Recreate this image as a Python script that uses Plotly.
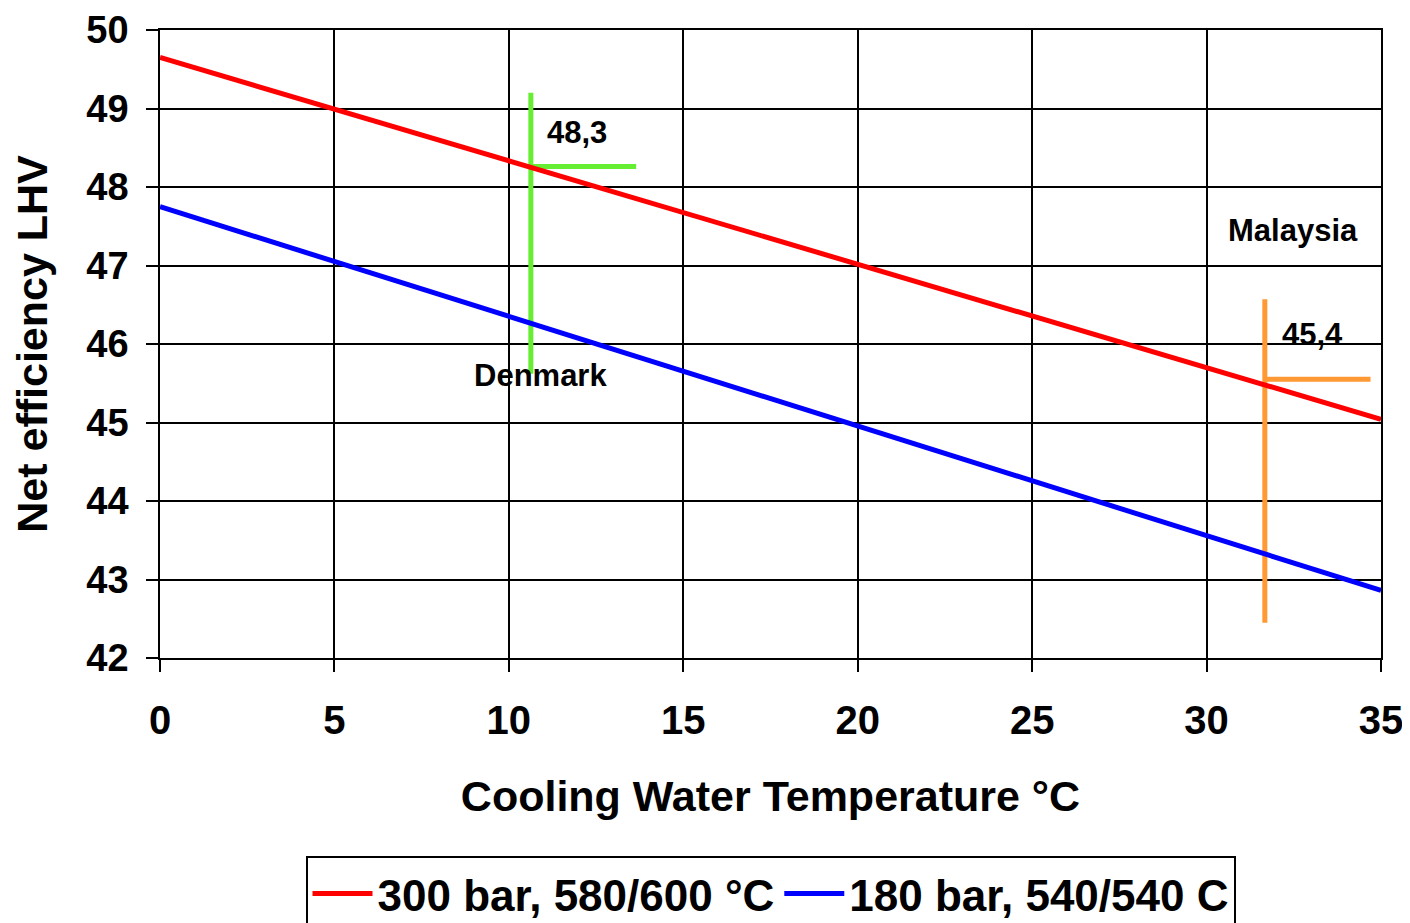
import plotly.graph_objects as go

temp = [0, 35]
eff_300 = [49.65, 45.04]
eff_180 = [47.75, 42.86]

dk_vert_x = [10.63, 10.63]
dk_vert_y = [49.2, 45.62]
dk_horiz_x = [10.63, 13.65]
dk_horiz_y = [48.26, 48.26]

my_vert_x = [31.67, 31.67]
my_vert_y = [46.57, 42.45]
my_horiz_x = [31.67, 34.7]
my_horiz_y = [45.55, 45.55]

FONT = "Liberation Sans, Arial, sans-serif"

fig = go.Figure()
fig.add_trace(go.Scatter(x=dk_vert_x, y=dk_vert_y, mode="lines", line=dict(color="#66ee33", width=5), showlegend=False))
fig.add_trace(go.Scatter(x=dk_horiz_x, y=dk_horiz_y, mode="lines", line=dict(color="#66ee33", width=5), showlegend=False))
fig.add_trace(go.Scatter(x=my_vert_x, y=my_vert_y, mode="lines", line=dict(color="#ff9933", width=5), showlegend=False))
fig.add_trace(go.Scatter(x=my_horiz_x, y=my_horiz_y, mode="lines", line=dict(color="#ff9933", width=5), showlegend=False))
fig.add_trace(go.Scatter(x=temp, y=eff_300, mode="lines", name="300 bar, 580/600 °C", line=dict(color="#ff0000", width=5)))
fig.add_trace(go.Scatter(x=temp, y=eff_180, mode="lines", name="180 bar, 540/540 C", line=dict(color="#0000ff", width=5)))

ann_font = dict(family=FONT, size=31, color="black")
annotations = [
    dict(x=11.95, y=48.69, text="<b>48,3</b>"),
    dict(x=10.92, y=45.6, text="<b>Denmark</b>"),
    dict(x=32.48, y=47.44, text="<b>Malaysia</b>"),
    dict(x=33.05, y=46.12, text="<b>45,4</b>"),
]
for a in annotations:
    a.update(xref="x", yref="y", showarrow=False, font=ann_font)

fig.update_layout(
    width=1410, height=923,
    margin=dict(l=152, r=37, t=22, b=273, autoexpand=False),
    paper_bgcolor="white", plot_bgcolor="white",
    showlegend=True,
    legend=dict(
        orientation="h", x=0.5, xanchor="center", y=-0.316, yanchor="top",
        bordercolor="black", borderwidth=2,
        font=dict(family=FONT, size=44, color="black", weight="bold"),
        itemwidth=60, traceorder="normal",
    ),
    annotations=annotations,
)
fig.update_xaxes(
    range=[0, 35], tickvals=[0, 5, 10, 15, 20, 25, 30, 35],
    showgrid=True, gridcolor="black", gridwidth=1.5,
    zeroline=False, showline=True, mirror=True, linecolor="black", linewidth=1.5,
    ticks="outside", ticklen=12, tickcolor="black", tickwidth=1.5,
    ticklabelstandoff=14, automargin=False, ticklabeloverflow="allow",
    tickfont=dict(family=FONT, size=40, color="black", weight="bold"),
    title=dict(text="<b>Cooling Water Temperature °C</b>", font=dict(family=FONT, size=43, color="black"), standoff=40),
)
fig.update_yaxes(
    range=[42, 50], tickvals=[42, 43, 44, 45, 46, 47, 48, 49, 50],
    showgrid=True, gridcolor="black", gridwidth=1.5,
    zeroline=False, showline=True, mirror=True, linecolor="black", linewidth=1.5,
    ticks="outside", ticklen=12, tickcolor="black", tickwidth=1.5,
    ticklabelstandoff=10, automargin=False, ticklabeloverflow="allow",
    tickfont=dict(family=FONT, size=38, color="black", weight="bold"),
    title=dict(text="<b>Net efficiency LHV</b>", font=dict(family=FONT, size=43, color="black"), standoff=27),
)

fig.write_html("out.html")
